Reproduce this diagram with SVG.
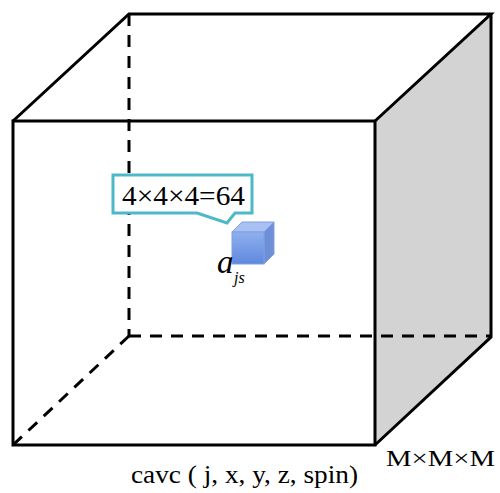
<svg xmlns="http://www.w3.org/2000/svg" width="500" height="493" viewBox="0 0 500 493">
<defs>
<style>
.edge{stroke:#000;stroke-width:3;fill:none;stroke-linejoin:miter}
.dash{stroke:#000;stroke-width:3;fill:none;stroke-dasharray:12,9}
.t{font-family:"Liberation Serif","Times New Roman",serif;fill:#000}
</style>
<linearGradient id="cf" x1="0" y1="0" x2="0" y2="1">
<stop offset="0" stop-color="#8fb0ef"/><stop offset="1" stop-color="#5f88de"/>
</linearGradient>
</defs>
<rect width="500" height="493" fill="#fff"/>
<g id="big-cube">
<polygon points="375,121 491,14 491,337 375,445" fill="#d3d3d3"/>
<line class="dash" x1="129" y1="14" x2="129" y2="336"/>
<line class="dash" x1="129" y1="336" x2="491" y2="336"/>
<line class="dash" x1="129" y1="336" x2="13" y2="445"/>
<rect class="edge" x="13" y="121" width="362" height="324"/>
<polyline class="edge" points="13,121 129,14 491,14 375,121"/>
<polyline class="edge" points="491,14 491,337 375,445"/>
</g>
<g id="callout">
<path d="M113,175 H252 V213 H235 L227,223 L197,213 H113 Z" fill="#fff" stroke="#4db8c8" stroke-width="3"/>
<text class="t" x="122" y="205" font-size="27" textLength="123" lengthAdjust="spacingAndGlyphs">4×4×4=64</text>
</g>
<g id="small-cube">
<polygon points="232,232 242,222 274,222 264,232" fill="#a9c1f2" stroke="#7f9fe0" stroke-width="1"/>
<polygon points="264,232 274,222 274,254 264,264" fill="#6d8fd8" stroke="#7f9fe0" stroke-width="1"/>
<rect x="232" y="232" width="32" height="32" fill="url(#cf)" stroke="#7f9fe0" stroke-width="1"/>
<text class="t" x="217" y="273" font-size="33" font-style="italic">a</text>
<text class="t" x="234" y="283" font-size="16" font-style="italic">js</text>
</g>
<text class="t" x="131" y="483" font-size="26" textLength="227" lengthAdjust="spacingAndGlyphs">cavc ( j, x, y, z, spin)</text>
<text class="t" x="386" y="466" font-size="24" textLength="109" lengthAdjust="spacingAndGlyphs">M×M×M</text>
</svg>
